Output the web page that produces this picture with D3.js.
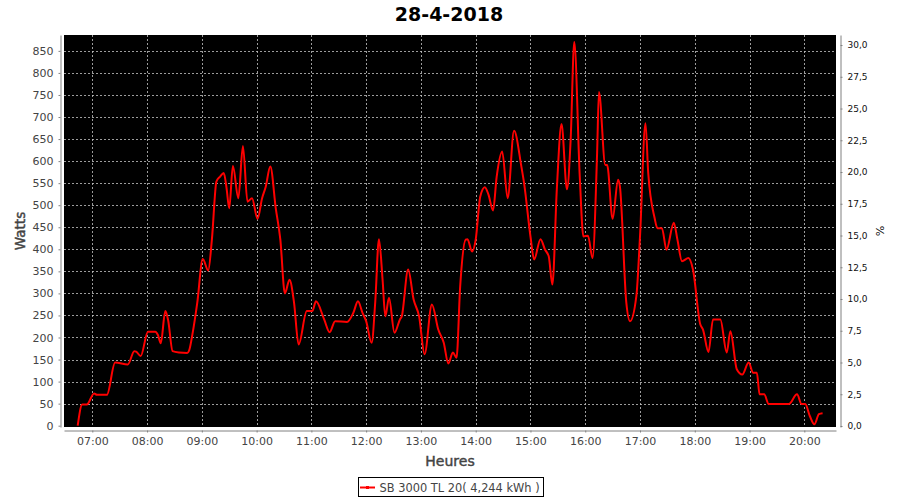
<!DOCTYPE html>
<html>
<head>
<meta charset="utf-8">
<script src="https://cdn.jsdelivr.net/npm/d3@7"></script>
<style>
  body { margin: 0; background: #fff; }
  svg { display: block; }
</style>
</head>
<body>
<svg id="chart" width="900" height="500"></svg>
<script>
// ---- data ----
const title = "28-4-2018";
const seriesName = "SB 3000 TL 20( 4,244 kWh )";
const times = ["06:44","06:49","06:54","07:02","07:05","07:16","07:25","07:39","07:46","07:48","07:53",
  "08:01","08:09","08:12","08:15","08:20","08:23","08:28","08:35","08:44","08:46","08:50","08:55",
  "09:01","09:07","09:11","09:16","09:20","09:24","09:27","09:30","09:34","09:40","09:45","09:50","09:55",
  "10:01","10:06","10:10","10:15","10:21","10:26","10:31","10:36","10:41","10:46","10:55",
  "11:01","11:05","11:14","11:20","11:26","11:39","11:46","11:51","11:56",
  "12:00","12:06","12:10","12:14","12:18","12:21","12:25","12:31","12:37","12:39","12:46","12:52","12:58",
  "13:04","13:12","13:19","13:25","13:30","13:35","13:39","13:43","13:49","13:51","13:56",
  "14:00","14:05","14:10","14:14","14:19","14:23","14:29","14:35","14:42","14:50","14:53",
  "15:00","15:04","15:11","15:16","15:20","15:24","15:29","15:34","15:40","15:44","15:48","15:54","15:58",
  "16:03","16:08","16:13","16:15","16:22","16:24","16:30","16:36","16:38","16:45","16:49","16:56",
  "17:00","17:06","17:09","17:16","17:19","17:24","17:29","17:37","17:41","17:46","17:53","17:58",
  "18:06","18:09","18:15","18:20","18:28","18:35","18:39","18:46","18:52","18:59",
  "19:04","19:08","19:11","19:16","19:21","19:43","19:52","19:57",
  "20:01","20:06","20:11","20:16","20:20"];
const watts = [0,48,48,73,70,70,143,139,169,168,158,
  213,213,205,187,260,240,169,166,165,170,211,279,
  378,352,422,554,565,573,540,493,589,516,634,508,516,
  469,516,542,588,493,422,300,331,279,184,260,
  260,282,241,212,237,235,256,282,256,
  237,188,282,423,331,248,290,211,241,248,354,286,248,
  162,275,218,188,141,166,154,316,422,423,395,
  422,520,541,524,488,565,622,516,669,588,550,
  429,377,423,399,384,320,542,684,536,648,870,565,429,
  431,380,618,757,591,591,469,558,542,279,237,294,
  429,686,573,471,448,448,399,460,422,373,380,354,
  230,218,167,241,241,166,214,128,116,143,
  120,120,71,71,49,49,71,49,
  49,22,3,26,28];
const xTickLabels = ["07:00","08:00","09:00","10:00","11:00","12:00","13:00",
  "14:00","15:00","16:00","17:00","18:00","19:00","20:00"];
const leftTicks = [0,50,100,150,200,250,300,350,400,450,500,550,600,650,700,750,800,850];
const rightTicks = [0,2.5,5,7.5,10,12.5,15,17.5,20,22.5,25,27.5,30];
const xStart = "06:29:00", xEnd = "20:34:42";
const leftDomain = [-3, 886];
const rightDomain = [-0.08, 30.79];

// ---- layout ----
const svg = d3.select("#chart");
const P = {l: 64, r: 836, t: 35, b: 427};
const FONT = "DejaVu Sans, sans-serif";

const parseHM = d3.timeParse("%H:%M");
const parseHMS = d3.timeParse("%H:%M:%S");
const data = times.map((t, i) => ({t: parseHM(t), v: watts[i]}));

const x = d3.scaleTime().domain([parseHMS(xStart), parseHMS(xEnd)]).range([P.l, P.r]);
const y = d3.scaleLinear().domain(leftDomain).range([P.b, P.t]);
const y2 = d3.scaleLinear().domain(rightDomain).range([P.b, P.t]);

// plot background
svg.append("rect").attr("x", P.l).attr("y", P.t)
  .attr("width", P.r - P.l).attr("height", P.b - P.t).attr("fill", "#000");

// grid lines
const grid = svg.append("g").attr("stroke", "#c4c4c4").attr("stroke-width", 0.8)
  .attr("stroke-dasharray", "2,2");
grid.selectAll("line.h").data(leftTicks.filter(d => d > 0)).join("line")
  .attr("x1", P.l).attr("x2", P.r)
  .attr("y1", d => Math.round(y(d)) + 0.5).attr("y2", d => Math.round(y(d)) + 0.5);
grid.selectAll("line.v").data(xTickLabels.map(parseHM)).join("line")
  .attr("y1", P.t).attr("y2", P.b)
  .attr("x1", d => Math.round(x(d)) + 0.5).attr("x2", d => Math.round(x(d)) + 0.5);

// series line
const line = d3.line().x(d => x(d.t)).y(d => y(d.v)).curve(d3.curveMonotoneX);
svg.append("path").datum(data).attr("d", line)
  .attr("fill", "none").attr("stroke", "#ff0000").attr("stroke-width", 2)
  .attr("stroke-linejoin", "round");

// axes
function styleAxis(g, color, size) {
  g.select(".domain").attr("stroke", "#808080");
  g.selectAll(".tick line").attr("stroke", "#808080");
  g.selectAll(".tick text").attr("fill", color).style("font-family", FONT).style("font-size", size);
}
const gl = svg.append("g").attr("transform", `translate(${P.l - 3.5},0)`)
  .call(d3.axisLeft(y).tickValues(leftTicks).tickSizeInner(2).tickSizeOuter(0).tickPadding(5));
styleAxis(gl, "#444", "11px");

const gb = svg.append("g").attr("transform", `translate(0,${P.b + 3.5})`)
  .call(d3.axisBottom(x).tickValues(xTickLabels.map(parseHM)).tickFormat(d3.timeFormat("%H:%M"))
    .tickSizeInner(2).tickSizeOuter(0).tickPadding(5));
styleAxis(gb, "#444", "11px");

const commaFmt = d => d3.format(".1f")(d).replace(".", ",");
const gr = svg.append("g").attr("transform", `translate(${P.r + 4.5},0)`)
  .call(d3.axisRight(y2).tickValues(rightTicks).tickFormat(commaFmt).tickSizeInner(2).tickSizeOuter(0).tickPadding(5));
styleAxis(gr, "#111", "9px");

// title & axis labels
svg.append("text").attr("x", 449).attr("y", 21).attr("text-anchor", "middle")
  .style("font-family", FONT).style("font-weight", "bold").style("font-size", "19px")
  .attr("fill", "#000").text(title);
svg.append("text").attr("x", 450).attr("y", 465.5).attr("text-anchor", "middle")
  .style("font-family", FONT).style("font-size", "14px").attr("fill", "#444")
  .attr("stroke", "#444").attr("stroke-width", 0.45).text("Heures");
svg.append("text").attr("transform", "translate(25,231) rotate(-90)").attr("text-anchor", "middle")
  .style("font-family", FONT).style("font-size", "13.5px").attr("fill", "#444")
  .attr("stroke", "#444").attr("stroke-width", 0.45).text("Watts");
svg.append("text").attr("transform", "translate(876,231) rotate(90)").attr("text-anchor", "middle")
  .style("font-family", FONT).style("font-size", "11px").attr("fill", "#111").text("%");

// legend
const lg = svg.append("g");
lg.append("rect").attr("x", 358.5).attr("y", 477.5).attr("width", 185).attr("height", 19)
  .attr("fill", "#fff").attr("stroke", "#000").attr("stroke-width", 1);
lg.append("line").attr("x1", 360).attr("x2", 375).attr("y1", 487.5).attr("y2", 487.5)
  .attr("stroke", "#ff0000").attr("stroke-width", 2);
lg.append("rect").attr("x", 366).attr("y", 486).attr("width", 3).attr("height", 3).attr("fill", "#ff0000");
lg.append("text").attr("x", 379.5).attr("y", 492).style("font-family", FONT)
  .style("font-size", "11.4px").attr("fill", "#444").text(seriesName);
</script>
</body>
</html>
